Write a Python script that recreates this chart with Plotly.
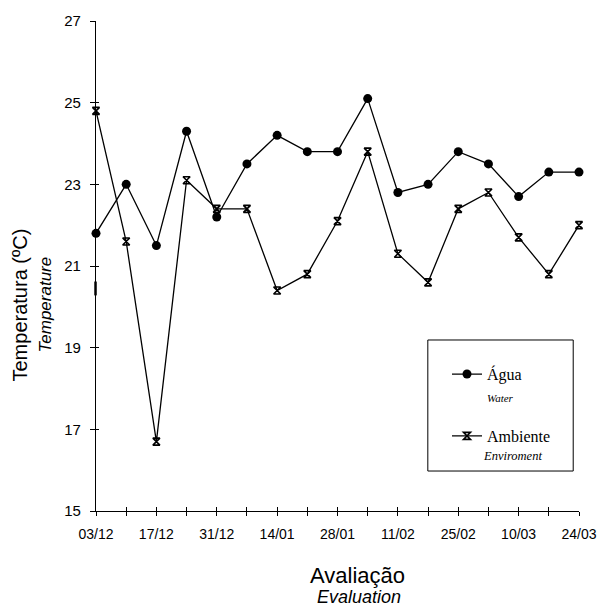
import plotly.graph_objects as go

# ---- data ----
dates = ["03/12", "10/12", "17/12", "24/12", "31/12", "07/01", "14/01", "21/01", "28/01",
         "04/02", "11/02", "18/02", "25/02", "03/03", "10/03", "17/03", "24/03"]
agua = [21.8, 23.0, 21.5, 24.3, 22.2, 23.5, 24.2, 23.8, 23.8,
        25.1, 22.8, 23.0, 23.8, 23.5, 22.7, 23.3, 23.3]
ambiente = [24.8, 21.6, 16.7, 23.1, 22.4, 22.4, 20.4, 20.8, 22.1,
            23.8, 21.3, 20.6, 22.4, 22.8, 21.7, 20.8, 22.0]
y_ticks = [15, 17, 19, 21, 23, 25, 27]

idx = list(range(len(dates)))
tick_text = [d if i % 2 == 0 else "" for i, d in enumerate(dates)]

SANS = "Liberation Sans, Arial, sans-serif"
SERIF = "Liberation Serif, Times New Roman, serif"

fig = go.Figure()
fig.add_trace(go.Scatter(
    x=idx, y=agua, mode="lines+markers", name="Água",
    line=dict(color="black", width=1.3),
    marker=dict(symbol="circle", size=9, color="black"),
    cliponaxis=False, legendgroup="a", xaxis="x", yaxis="y"))
fig.add_trace(go.Scatter(
    x=idx, y=ambiente, mode="lines+markers", name="Ambiente",
    line=dict(color="black", width=1.3),
    marker=dict(symbol="hourglass-open", size=7, color="black", line=dict(color="black", width=1.6)),
    cliponaxis=False, legendgroup="b", xaxis="x2", yaxis="y2"))

xr = [0, len(dates) - 1]
yr = [15, 27]
common_x = dict(range=xr, tickmode="array", tickvals=idx, showgrid=False, zeroline=False,
                tickcolor="black", tickwidth=1.2, fixedrange=True, automargin=False)
common_y = dict(range=yr, tickmode="array", tickvals=y_ticks, showgrid=False, zeroline=False,
                tickcolor="black", tickwidth=1.2, fixedrange=True, automargin=False)

fig.update_layout(
    width=598, height=606, autosize=False,
    margin=dict(l=96, r=19, t=21, b=95),
    paper_bgcolor="white", plot_bgcolor="white",
    font=dict(family=SANS, color="black"),
    xaxis=dict(**common_x, ticktext=tick_text, ticks="outside", ticklen=4,
               showline=True, linecolor="black", linewidth=1.3,
               tickfont=dict(family=SANS, size=14, color="black"), ticklabelstandoff=6),
    yaxis=dict(**common_y, ticktext=[str(v) for v in y_ticks], ticks="outside", ticklen=5,
               showline=True, linecolor="black", linewidth=1.3,
               tickfont=dict(family=SANS, size=15, color="black"), ticklabelstandoff=6),
    xaxis2=dict(**common_x, overlaying="x", anchor="y2", side="bottom", ticks="inside", ticklen=4,
                showticklabels=False, showline=False),
    yaxis2=dict(**common_y, overlaying="y", anchor="x2", side="left", ticks="inside", ticklen=3,
                showticklabels=False, showline=False),
    showlegend=True,
    legend=dict(x=0.7267, y=0.314, xanchor="left", yanchor="top",
                bgcolor="rgba(0,0,0,0)", borderwidth=0,
                font=dict(family=SERIF, size=16, color="black"),
                traceorder="grouped", tracegroupgap=38, itemwidth=30),
    shapes=[
        dict(type="rect", xref="paper", yref="paper", x0=0.687, x1=0.988, y0=0.0816, y1=0.349,
             line=dict(color="black", width=1), fillcolor="rgba(0,0,0,0)", layer="above"),
        dict(type="line", xref="paper", yref="y", x0=-0.001, x1=-0.001, y0=20.28, y1=20.62,
             line=dict(color="black", width=2.5)),
    ],
    annotations=[
        dict(text="Temperatura (ºC)", xref="paper", yref="paper", x=-0.1573, y=0.4194,
             xanchor="center", yanchor="middle", textangle=-90, showarrow=False,
             font=dict(family=SANS, size=20, color="black")),
        dict(text="<i>Temperature</i>", xref="paper", yref="paper", x=-0.1035, y=0.4214,
             xanchor="center", yanchor="middle", textangle=-90, showarrow=False,
             font=dict(family=SANS, size=17, color="black")),
        dict(text="Avaliação", xref="paper", yref="paper", x=0.5424, y=-0.1310,
             xanchor="center", yanchor="middle", showarrow=False,
             font=dict(family=SANS, size=22, color="black")),
        dict(text="<i>Evaluation</i>", xref="paper", yref="paper", x=0.5439, y=-0.1765,
             xanchor="center", yanchor="middle", showarrow=False,
             font=dict(family=SANS, size=18, color="black")),
        dict(text="<i>Water</i>", xref="paper", yref="paper", x=(485 - 96) / 483, y=0.2312,
             xanchor="left", yanchor="middle", showarrow=False,
             font=dict(family=SERIF, size=11, color="black")),
        dict(text="<i>Enviroment</i>", xref="paper", yref="paper", x=(481 - 96) / 483, y=0.1129,
             xanchor="left", yanchor="middle", showarrow=False,
             font=dict(family=SERIF, size=12.5, color="black")),
    ],
)

fig.write_html(
    "out.html",
    config={"responsive": False, "displayModeBar": False},
    post_script="document.body.style.margin='0px';document.body.style.overflow='hidden';",
)
